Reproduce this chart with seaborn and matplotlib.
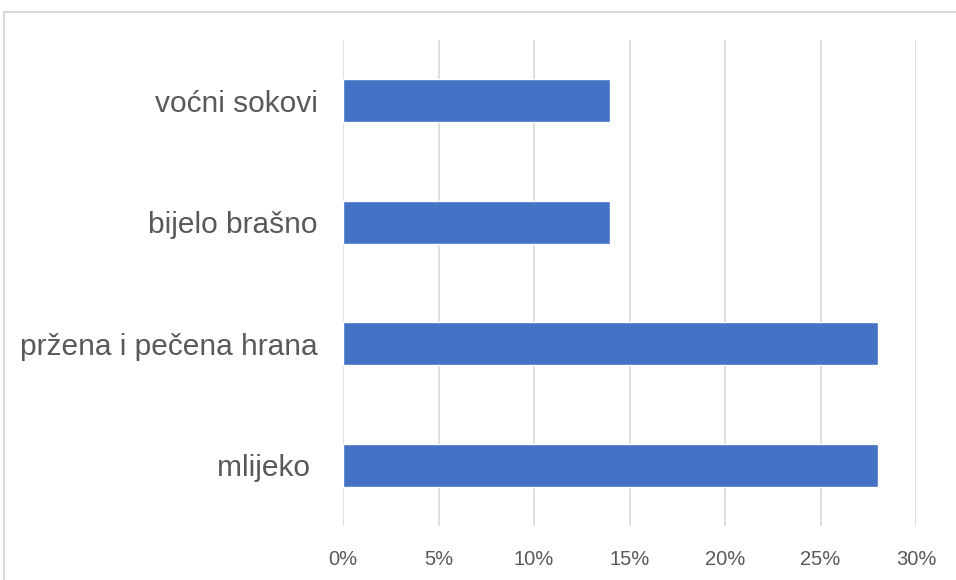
import pandas as pd
import seaborn as sns
import matplotlib.pyplot as plt
from matplotlib.patches import Rectangle
from matplotlib.ticker import FuncFormatter

# Data (top to bottom)
categories = ["voćni sokovi", "bijelo brašno", "pržena i pečena hrana", "mlijeko "]
values = [14, 14, 28, 28]
xticks = [0, 5, 10, 15, 20, 25, 30]

df = pd.DataFrame({"category": categories, "value": values})

sns.set_style("white")
plt.rcParams['font.family'] = ['Liberation Sans', 'DejaVu Sans']

fig = plt.figure(figsize=(9.56, 5.8), dpi=100)
ax = fig.add_axes([343 / 956, 54 / 580, 573 / 956, 486 / 580])

sns.barplot(data=df, x="value", y="category", orient="h", color="#4472C4",
            width=0.35, saturation=1, ax=ax)

ax.set_xlim(0, 30)
ax.set_xticks(xticks)
ax.xaxis.set_major_formatter(FuncFormatter(lambda v, p: f"{v:.0f}%"))
ax.grid(axis="x", color="#D9D9D9", linewidth=1.2)
ax.set_axisbelow(True)
for s in ax.spines.values():
    s.set_visible(False)
ax.set_xlabel("")
ax.set_ylabel("")
ax.tick_params(axis="y", length=0, pad=18, labelsize=21.5, labelcolor="#595959")
ax.tick_params(axis="x", length=0, pad=17, labelsize=14.5, labelcolor="#595959")

# chart border
fig.patches.append(Rectangle((4 / 956, -0.1), 1.1, (580 - 11.5) / 580 + 0.1,
                             transform=fig.transFigure, fill=False,
                             edgecolor="#D9D9D9", linewidth=1.5))

fig.savefig("out.png", dpi=100)
